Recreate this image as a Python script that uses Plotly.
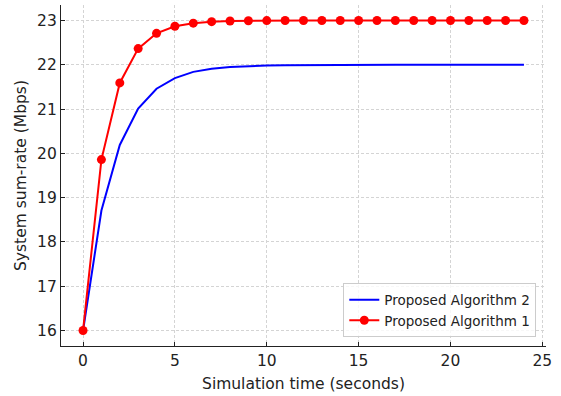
import plotly.graph_objects as go

time_s = list(range(25))
alg2_rate = [16.0, 18.71, 20.19, 21.01, 21.46, 21.70, 21.84, 21.91, 21.95, 21.973,
             21.985, 21.992, 21.996, 21.998, 21.999, 22.0, 22.0, 22.0, 22.0, 22.0,
             22.0, 22.0, 22.0, 22.0, 22.0]
alg1_rate = [16.0, 19.86, 21.59, 22.365, 22.71, 22.87, 22.94, 22.974, 22.988, 22.995,
             22.998, 22.999, 23.0, 23.0, 23.0, 23.0, 23.0, 23.0, 23.0, 23.0,
             23.0, 23.0, 23.0, 23.0, 23.0]
x_ticks = [0, 5, 10, 15, 20, 25]
y_ticks = [16, 17, 18, 19, 20, 21, 22, 23]

fig = go.Figure()
fig.add_trace(go.Scatter(x=time_s, y=alg2_rate, mode="lines", name="Proposed Algorithm 2",
                         line=dict(color="blue", width=2)))
fig.add_trace(go.Scatter(x=time_s, y=alg1_rate, mode="lines+markers", name="Proposed Algorithm 1",
                         line=dict(color="red", width=2), marker=dict(color="red", size=9)))

txt = "#222222"
axis_common = dict(
    showline=True, linecolor=txt, linewidth=1.2,
    ticks="inside", ticklen=4, tickwidth=1, tickcolor=txt,
    showgrid=True, gridcolor="#d4d4d4", griddash="3px,2px", gridwidth=0.8,
    zeroline=False, mirror=False, automargin=False,
    tickfont=dict(family="DejaVu Sans", size=15.5, color=txt),
)
fig.update_xaxes(range=[-1.2, 25.2], tickvals=x_ticks,
                 title=dict(text="Simulation time (seconds)", font=dict(family="DejaVu Sans", size=15.5, color=txt), standoff=9),
                 **axis_common)
fig.update_yaxes(range=[15.65, 23.35], tickvals=y_ticks,
                 title=dict(text="System sum-rate (Mbps)", font=dict(family="DejaVu Sans", size=15.5, color=txt), standoff=6),
                 **axis_common)
fig.update_layout(
    width=561, height=396,
    margin=dict(l=61, r=15, t=5, b=50),
    plot_bgcolor="white", paper_bgcolor="white",
    font=dict(family="DejaVu Sans", color=txt),
    legend=dict(x=0.98, y=0.025, xanchor="right", yanchor="bottom",
                bgcolor="rgba(255,255,255,0.8)", bordercolor="#cccccc", borderwidth=1,
                font=dict(family="DejaVu Sans", size=13.5, color=txt)),
)
fig.write_html("out.html", post_script="document.body.style.margin='0';",
               config={"displayModeBar": False})
